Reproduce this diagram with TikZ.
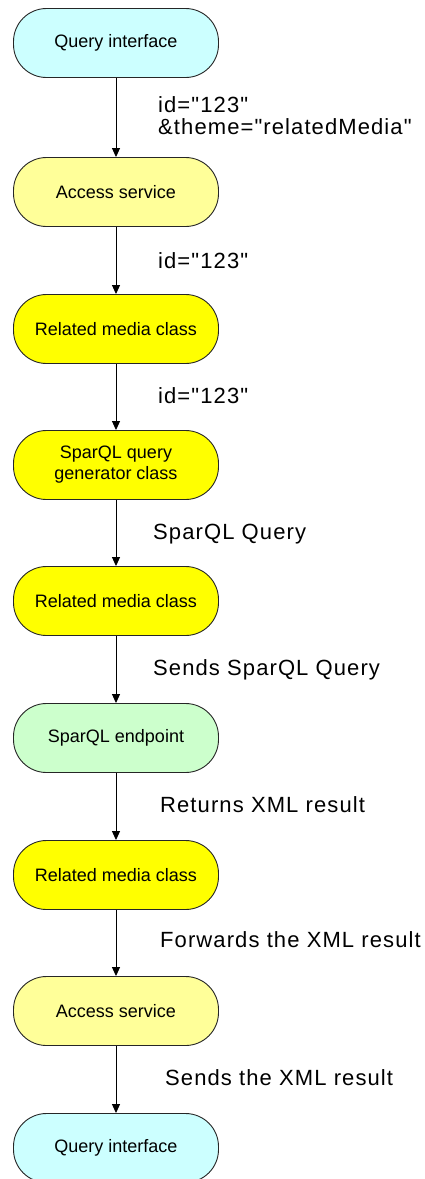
\documentclass[tikz,border=0pt]{standalone}
\usepackage{fontspec}
\setmainfont{Liberation Sans}
\newfontfamily\lblfont[LetterSpace=5]{Liberation Sans}
\usetikzlibrary{arrows.meta}
\definecolor{qcyan}{RGB}{204,255,255}
\definecolor{lyellow}{RGB}{255,255,153}
\definecolor{byellow}{RGB}{255,255,0}
\definecolor{lgreen}{RGB}{204,255,204}
\tikzset{
  box/.style={draw=black!85, line width=0.9pt, rounded corners=33pt,
    minimum width=205pt, minimum height=69pt, inner sep=0pt, align=center,
    font=\fontsize{18}{21}\selectfont},
  flow/.style={draw=black, line width=0.9pt, -{Triangle[length=9pt,width=8pt]}},
  lbl/.style={anchor=west, inner sep=0pt, align=left,
    font=\lblfont\fontsize{22}{22}\selectfont}
}
\begin{document}
\begin{tikzpicture}[x=1pt,y=-1pt]
\useasboundingbox (0,0) rectangle (424,1179);
\node[box, fill=qcyan]   (n1) at (116,43)   {Query interface};
\node[box, fill=lyellow] (n2) at (116,192)  {Access service};
\node[box, fill=byellow] (n3) at (116,329)  {Related media class};
\node[box, fill=byellow] (n4) at (116,465)  {SparQL query\\generator class};
\node[box, fill=byellow] (n5) at (116,601)  {Related media class};
\node[box, fill=lgreen]  (n6) at (116,738)  {SparQL endpoint};
\node[box, fill=byellow] (n7) at (116,875)  {Related media class};
\node[box, fill=lyellow] (n8) at (116,1011) {Access service};
\node[box, fill=qcyan]   (n9) at (116,1148) {Query interface};
\draw[flow] (n1) -- (n2);
\draw[flow] (n2) -- (n3);
\draw[flow] (n3) -- (n4);
\draw[flow] (n4) -- (n5);
\draw[flow] (n5) -- (n6);
\draw[flow] (n6) -- (n7);
\draw[flow] (n7) -- (n8);
\draw[flow] (n8) -- (n9);
\node[lbl] (l1) at (158,116) {id="123"\\\&theme="relatedMedia"};
\node[lbl] (l2) at (158,261) {id="123"};
\node[lbl] (l3) at (158,396) {id="123"};
\node[lbl] (l4) at (153,534) {SparQL Query};
\node[lbl] (l5) at (153,670) {Sends SparQL Query};
\node[lbl] (l6) at (160,805) {Returns XML result};
\node[lbl] (l7) at (160,940) {Forwards the XML result};
\node[lbl] (l8) at (165,1078) {Sends the XML result};
\end{tikzpicture}
\end{document}
